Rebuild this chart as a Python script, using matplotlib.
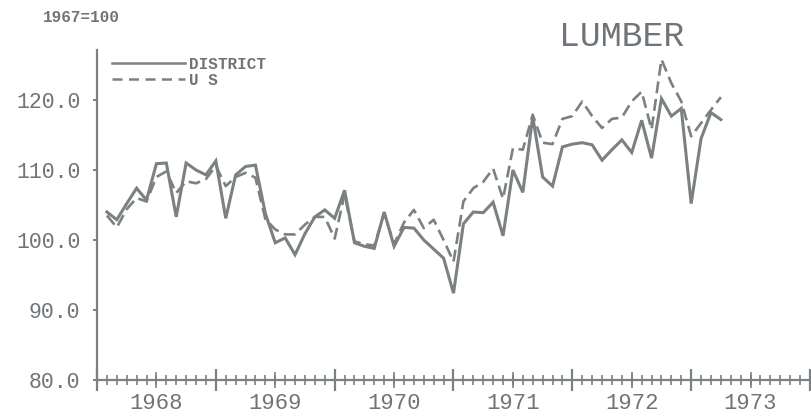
import matplotlib
matplotlib.use("Agg")
import matplotlib.pyplot as plt
from matplotlib.lines import Line2D
import numpy as np

# monthly index values, 1967=100, starting Feb 1968
start_month = 1  # months after Jan 1968
district = [104.0, 102.9, 105.2, 107.4, 105.7, 110.9, 111.0, 103.3, 111.0, 110.0, 109.3, 111.3,
            103.1, 109.3, 110.5, 110.7, 103.8, 99.6, 100.3, 97.9, 100.9, 103.3, 104.3, 103.1,
            107.1, 99.6, 99.1, 98.8, 104.0, 99.1, 101.8, 101.7, 100.0, 98.7, 97.4, 92.4,
            102.3, 104.0, 103.9, 105.4, 100.6, 110.0, 106.8, 117.6, 109.0, 107.7, 113.3, 113.7,
            113.9, 113.6, 111.4, 112.9, 114.3, 112.5, 117.1, 111.7, 120.2, 117.7, 118.8, 105.2,
            114.5, 118.2, 117.2]
us = [103.5, 101.8, 104.4, 106.0, 105.5, 109.0, 109.8, 106.7, 108.4, 108.1, 108.7, 110.6,
      107.7, 109.0, 109.6, 108.9, 103.0, 101.5, 100.8, 100.8, 102.2, 103.3, 103.3, 100.2,
      106.5, 99.8, 99.4, 99.2, 103.8, 99.4, 102.5, 104.3, 101.7, 102.9, 100.0, 96.9,
      105.5, 107.4, 108.3, 110.2, 105.9, 113.1, 112.9, 117.9, 113.9, 113.7, 117.3, 117.7,
      119.8, 117.7, 116.0, 117.3, 117.5, 119.8, 121.2, 115.8, 125.8, 122.4, 119.8, 114.8,
      116.7, 118.6, 120.4]
years = [1968, 1969, 1970, 1971, 1972, 1973]
y_ticks = [80, 90, 100, 110, 120]

GRAY = "#7b8083"
TEXT = "#6e7477"
FONT = "Liberation Mono"

x = np.arange(len(district)) + start_month

fig = plt.figure(figsize=(8.11, 4.16), dpi=100)
ax = fig.add_axes([97 / 811, 36 / 416, 713 / 811, 330 / 416])

ax.plot(x, district, color=GRAY, lw=2.2, solid_joinstyle="miter", label="DISTRICT")
ax.plot(x, us, color=GRAY, lw=1.9, linestyle=(0, (4.5, 2.2)), label="U S")

ax.set_xlim(0, 72)
ax.set_ylim(80, 80 + 330 / 7)

for side in ("top", "right"):
    ax.spines[side].set_visible(False)
for side in ("left", "bottom"):
    ax.spines[side].set_color(GRAY)
    ax.spines[side].set_linewidth(1.6)

ax.set_yticks(y_ticks)
ax.set_yticklabels([f"{v:.1f}" for v in y_ticks], fontfamily=FONT, fontsize=15.5, color=TEXT)
ax.tick_params(axis="y", direction="out", length=3, width=1.4, color=GRAY, pad=9)

# year boundaries and monthly ticks
ax.set_xticks(np.arange(0, 73, 12))
ax.set_xticklabels([])
ax.set_xticks(np.arange(0, 73, 1), minor=True)
ax.tick_params(axis="x", which="major", direction="inout", length=16, width=1.6, color=GRAY)
ax.tick_params(axis="x", which="minor", direction="inout", length=6.5, width=1.2, color=GRAY)

# mid-year ticks carry the year labels
ax2 = ax.twiny()
ax2.set_xlim(ax.get_xlim())
ax2.xaxis.set_ticks_position("bottom")
ax2.xaxis.set_label_position("bottom")
for s in ax2.spines.values():
    s.set_visible(False)
ax2.set_xticks(np.arange(6, 72, 12))
ax2.set_xticklabels([str(y) for y in years], fontfamily=FONT, fontsize=16, color=TEXT)
ax2.tick_params(axis="x", direction="inout", length=11, width=1.2, color=GRAY, pad=4)

leg = ax.legend(handles=[Line2D([], [], color=GRAY, lw=1.8),
                         Line2D([], [], color=GRAY, lw=1.8, linestyle=(0, (4, 2.6)))],
                labels=["DISTRICT", "U S"], loc="upper left",
                bbox_to_anchor=(15 / 713, 1 - 7 / 330), frameon=False,
                handlelength=4.6, handletextpad=0.2, labelspacing=0.05,
                borderpad=0, borderaxespad=0,
                prop={"family": FONT, "size": 11.5, "weight": "bold"}, labelcolor=TEXT)

fig.text(43 / 811, 1 - 18 / 416, "1967=100", fontfamily=FONT, fontsize=11.5, fontweight="bold",
         color=TEXT, va="center", ha="left")
fig.text(622 / 811, 1 - 37 / 416, "LUMBER", fontfamily=FONT, fontsize=25, color=TEXT,
         va="center", ha="center")

fig.savefig("out.png", dpi=100, facecolor="white")
